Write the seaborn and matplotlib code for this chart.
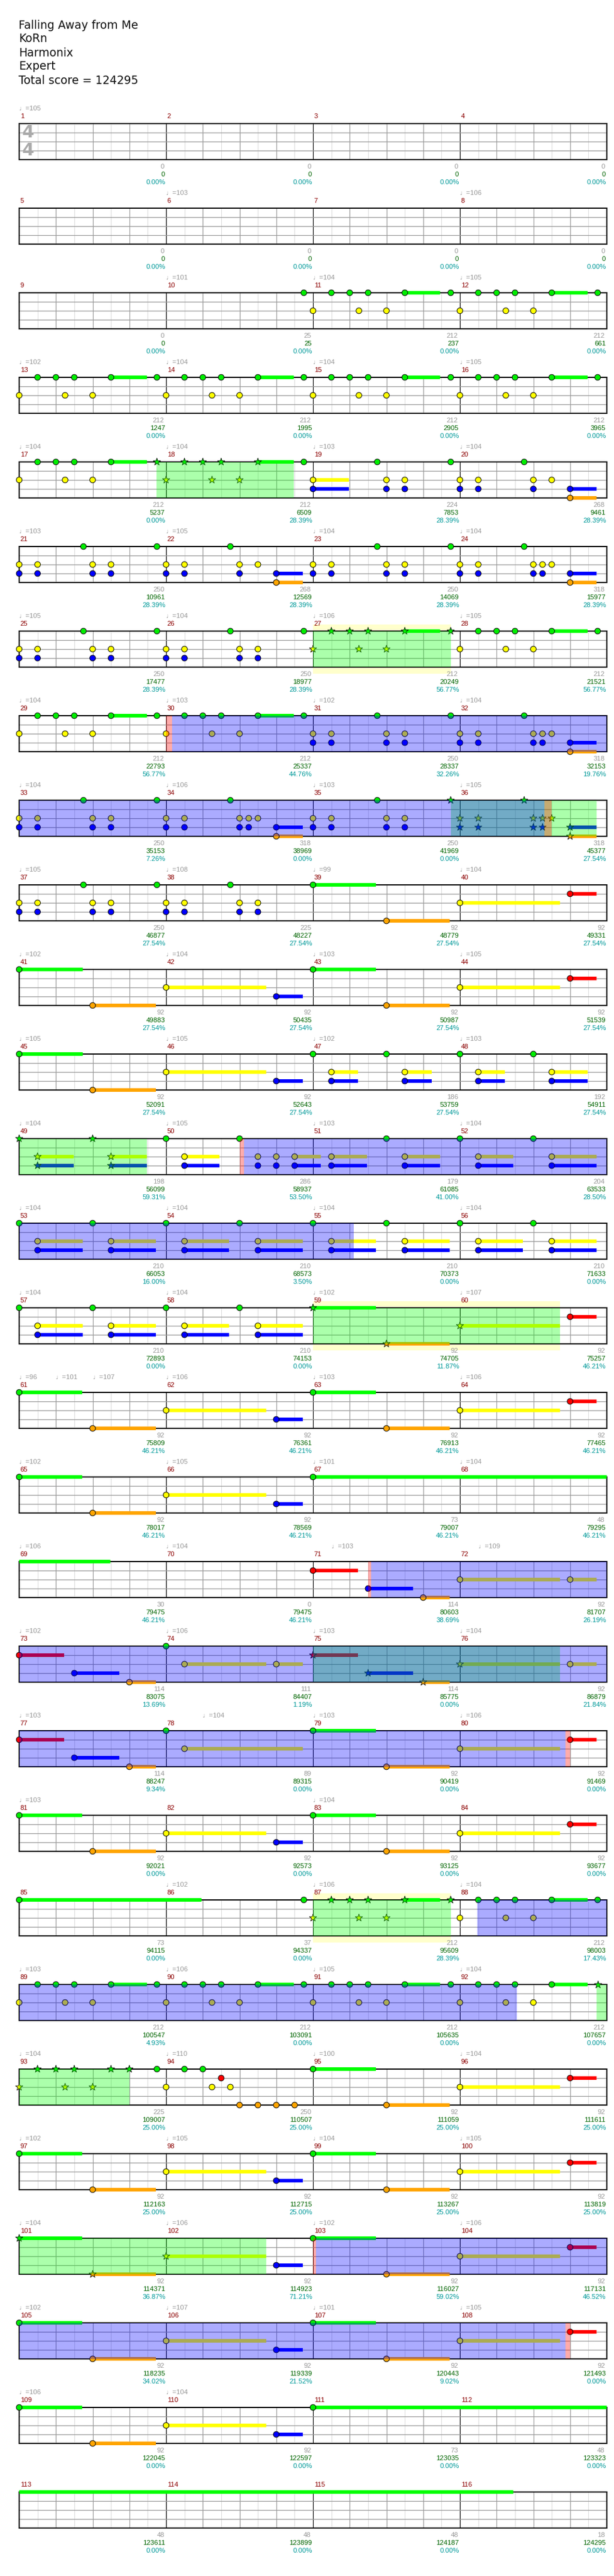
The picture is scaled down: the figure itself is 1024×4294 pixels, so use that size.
import matplotlib
matplotlib.use("Agg")
import matplotlib.pyplot as plt
from matplotlib.patches import Rectangle
import pandas as pd
import seaborn as sns

# ---- song header ----
title_lines = ["Falling Away from Me", "KoRn", "Harmonix", "Expert", "Total score = 124295"]

# ---- tempo markers: (measure, beat in measure, bpm) ----
tempos = [
    (1, 0, 105), (6, 0, 103), (8, 0, 106), (10, 0, 101), (11, 0, 104), (12, 0, 105),
    (13, 0, 102), (14, 0, 104), (15, 0, 104), (16, 0, 105), (17, 0, 104), (18, 0, 104),
    (19, 0, 103), (20, 0, 104), (21, 0, 103), (22, 0, 105), (23, 0, 104), (24, 0, 104),
    (25, 0, 105), (26, 0, 104), (27, 0, 106), (28, 0, 105), (29, 0, 104), (30, 0, 103),
    (31, 0, 102), (32, 0, 104), (33, 0, 104), (34, 0, 106), (35, 0, 103), (36, 0, 105),
    (37, 0, 105), (38, 0, 108), (39, 0, 99), (40, 0, 104), (41, 0, 102), (42, 0, 104),
    (43, 0, 103), (44, 0, 105), (45, 0, 105), (46, 0, 105), (47, 0, 102), (48, 0, 103),
    (49, 0, 104), (50, 0, 105), (51, 0, 103), (52, 0, 104), (53, 0, 104), (54, 0, 104),
    (55, 0, 104), (56, 0, 104), (57, 0, 104), (58, 0, 104), (59, 0, 102), (60, 0, 107),
    (61, 0, 96), (61, 1, 101), (61, 2, 107), (62, 0, 106), (63, 0, 103), (64, 0, 106),
    (65, 0, 102), (66, 0, 105), (67, 0, 101), (68, 0, 104), (69, 0, 106), (70, 0, 104),
    (71, 0.5, 103), (72, 0.5, 109), (73, 0, 102), (74, 0, 106), (75, 0, 103), (76, 0, 104),
    (77, 0, 103), (78, 1, 104), (79, 0, 103), (80, 0, 106), (81, 0, 103), (83, 0, 104),
    (86, 0, 102), (87, 0, 106), (88, 0, 104), (89, 0, 103), (90, 0, 106), (91, 0, 105),
    (92, 0, 104), (93, 0, 104), (94, 0, 110), (95, 0, 100), (96, 0, 104), (97, 0, 102),
    (98, 0, 105), (99, 0, 104), (100, 0, 105), (101, 0, 104), (102, 0, 106), (103, 0, 102),
    (104, 0, 106), (105, 0, 102), (106, 0, 107), (107, 0, 101), (108, 0, 105), (109, 0, 106),
    (110, 0, 104),
]

# ---- notes per measure: "*" = star note, letters = frets, number = beat, ":len" = sustain ----
chart = {
    10: "G3.75",
    11: "Y0 G.5 G1 Y1.25 G1.5 Y2 G2.5:.96 G3.75",
    12: "Y0 G.5 G1 Y1.25 G1.5 Y2 G2.5:.97 G3.75",
    13: "Y0 G.5 G1 Y1.25 G1.5 Y2 G2.5:.97 G3.75",
    14: "Y0 G.5 G1 Y1.25 G1.5 Y2 G2.5:.97 G3.75",
    15: "Y0 G.5 G1 Y1.25 G1.5 Y2 G2.5:.96 G3.75",
    16: "Y0 G.5 G1 Y1.25 G1.5 Y2 G2.5:.97 G3.75",
    17: "Y0 G.5 G1 Y1.25 G1.5 Y2 G2.5:.97 *G3.75",
    18: "*Y0 *G.5 *G1 *Y1.25 *G1.5 *Y2 *G2.5:.98 G3.75",
    19: "YB0:.98 G1.75 YB2 YB2.5 G3.75",
    20: "YB0 YB.5 G1.75 YB2 Y2.5 BO3:.73",
    21: "YB0 YB.5 G1.75 YB2 YB2.5 G3.75",
    22: "YB0 YB.5 G1.75 YB2 Y2.5 BO3:.72",
    23: "YB0 YB.5 G1.75 YB2 YB2.5 G3.75",
    24: "YB0 YB.5 G1.75 YB2 YB2.25 Y2.5 BO3:.73",
    25: "YB0 YB.5 G1.75 YB2 YB2.5 G3.75",
    26: "YB0 YB.5 G1.75 YB2 YB2.5 G3.75",
    27: "*Y0 *G.5 *G1 *Y1.25 *G1.5 *Y2 *G2.5:.96 *G3.75",
    28: "Y0 G.5 G1 Y1.25 G1.5 Y2 G2.5:.97 G3.75",
    29: "Y0 G.5 G1 Y1.25 G1.5 Y2 G2.5:.97 G3.75",
    30: "Y0 G.5 G1 Y1.25 G1.5 Y2 G2.5:.98 G3.75",
    31: "YB0 YB.5 G1.75 YB2 YB2.5 G3.75",
    32: "YB0 YB.5 G1.75 YB2 YB2.25 Y2.5 BO3:.73",
    33: "YB0 YB.5 G1.75 YB2 YB2.5 G3.75",
    34: "YB0 YB.5 G1.75 YB2 YB2.25 Y2.5 BO3:.72",
    35: "YB0 YB.5 G1.75 YB2 YB2.5 *G3.75",
    36: "*YB0 *YB.5 *G1.75 *YB2 *YB2.25 *Y2.5 *BO3:.73",
    37: "YB0 YB.5 G1.75 YB2 YB2.5 G3.75",
    38: "YB0 YB.5 G1.75 YB2 YB2.5",
    39: "G0:1.72 O2:1.72",
    40: "Y0:2.73 R3:.73",
    41: "G0:1.73 O2:1.72",
    42: "Y0:2.72 B3:.72",
    43: "G0:1.72 O2:1.72",
    44: "Y0:2.73 R3:.73",
    45: "G0:1.73 O2:1.72",
    46: "Y0:2.72 B3:.72",
    47: "G0 YB.5:.73 G2 YB2.5:.73",
    48: "G0 YB.5:.73 G2 YB2.5:.97",
    49: "*G0 *YB.5:.98 *G2 *YB2.5:.97",
    50: "G0 YB.5:.96 G2 YB2.5 YB3 YB3.5:.72",
    51: "YB.5:.97 G2 YB2.5:.96",
    52: "G0 YB.5:.96 G2 YB2.5:1.23",
    53: "G0 YB.5:1.23 G2 YB2.5:1.22",
    54: "G0 YB.5:1.22 G2 YB2.5:1.22",
    55: "G0 YB.5:1.22 G2 YB2.5:1.22",
    56: "G0 YB.5:1.22 G2 YB2.5:1.23",
    57: "G0 YB.5:1.23 G2 YB2.5:1.22",
    58: "G0 YB.5:1.22 G2 YB2.5:1.22",
    59: "*G0:1.72 *O2:1.72",
    60: "*Y0:2.73 R3:.73",
    61: "G0:1.72 O2:1.72",
    62: "Y0:2.72 B3:.72",
    63: "G0:1.72 O2:1.72",
    64: "Y0:2.73 R3:.73",
    65: "G0:1.72 O2:1.72",
    66: "Y0:2.72 B3:.72",
    67: "G0:10.48",
    71: "R0:1.22 B1.5:1.22 O3:.72",
    72: "Y0:2.73 Y3:.72",
    73: "R0:1.23 B1.5:1.22 O3:.72",
    74: "G0 Y.5:2.22 Y3:.72",
    75: "*R0:1.23 *B1.5:1.22 *O3:.72",
    76: "*Y0:2.73 Y3:.72",
    77: "R0:1.23 B1.5:1.22 O3:.72",
    78: "G0 Y.5:3.22",
    79: "G0:1.72 O2:1.72",
    80: "Y0:2.73 R3:.73",
    81: "G0:1.72 O2:1.72",
    82: "Y0:2.72 B3:.72",
    83: "G0:1.72 O2:1.72",
    84: "Y0:2.73 R3:.73",
    85: "G0:4.97",
    86: "G3.75",
    87: "*Y0 *G.5 *G1 *Y1.25 *G1.5 *Y2 *G2.5:.96 *G3.75",
    88: "Y0 G.5 G1 Y1.25 G1.5 Y2 G2.5:.97 G3.75",
    89: "Y0 G.5 G1 Y1.25 G1.5 Y2 G2.5:.97 G3.75",
    90: "Y0 G.5 G1 Y1.25 G1.5 Y2 G2.5:.98 G3.75",
    91: "Y0 G.5 G1 Y1.25 G1.5 Y2 G2.5:.96 G3.75",
    92: "Y0 G.5 G1 Y1.25 G1.5 Y2 G2.5:.97 *G3.75",
    93: "*Y0 *G.5 *G1 *Y1.25 *G1.5 *Y2 *G2.5 *G3 G3.75",
    94: "Y0 G.5 G1 Y1.25 R1.5 Y1.75 O2 O2.5 O3 O3.5",
    95: "G0:1.72 O2:1.72",
    96: "Y0:2.73 R3:.73",
    97: "G0:1.72 O2:1.72",
    98: "Y0:2.72 B3:.72",
    99: "G0:1.72 O2:1.72",
    100: "Y0:2.73 R3:.73",
    101: "*G0:1.72 *O2:1.72",
    102: "*Y0:2.72 B3:.72",
    103: "G0:1.72 O2:1.72",
    104: "Y0:2.73 R3:.73",
    105: "G0:1.72 O2:1.72",
    106: "Y0:2.72 B3:.72",
    107: "G0:1.72 O2:1.72",
    108: "Y0:2.73 R3:.73",
    109: "G0:1.72 O2:1.72",
    110: "Y0:2.72 B3:.72",
    111: "G0:21.46",
}

# ---- star power phrases, whammy zones, activations (absolute beats) ----
sp_phrases = [(67.74, 71.48), (104.0, 107.75), (139.75, 143.73), (192.0, 195.47), (232.0, 238.72),
              (296.0, 302.72), (344.0, 347.75), (367.73, 371.0), (400.0, 406.72)]
whammy_zones = [(104.0, 107.75), (232.0, 238.72), (344.0, 347.75)]
activations = [(116.16, 142.31), (198.13, 217.11), (281.58, 318.88), (348.47, 365.55), (408.08, 430.88)]
act_marks = [(116.0, 116.16), (142.31, 142.5), (198.0, 198.13), (281.5, 281.58), (318.88, 319.0),
             (408.0, 408.08), (430.88, 431.0)]

# ---- per-measure labels ----
counts = [0, 0, 0, 0, 0, 0, 0, 0,
          0, 25, 212, 212, 212, 212, 212, 212,
          212, 212, 224, 268, 250, 268, 250, 318,
          250, 250, 212, 212, 212, 212, 250, 318,
          250, 318, 250, 318, 250, 225, 92, 92,
          92, 92, 92, 92, 92, 92, 186, 192,
          198, 286, 179, 204, 210, 210, 210, 210,
          210, 210, 92, 92, 92, 92, 92, 92,
          92, 92, 73, 48, 30, 0, 114, 92,
          114, 111, 114, 92, 114, 89, 92, 92,
          92, 92, 92, 92, 73, 37, 212, 212,
          212, 212, 212, 212, 225, 250, 92, 92,
          92, 92, 92, 92, 92, 92, 92, 92,
          92, 92, 92, 92, 92, 92, 73, 48,
          48, 48, 48, 18]
scores = [0, 0, 0, 0, 0, 0, 0, 0,
          0, 25, 237, 661, 1247, 1995, 2905, 3965,
          5237, 6509, 7853, 9461, 10961, 12569, 14069, 15977,
          17477, 18977, 20249, 21521, 22793, 25337, 28337, 32153,
          35153, 38969, 41969, 45377, 46877, 48227, 48779, 49331,
          49883, 50435, 50987, 51539, 52091, 52643, 53759, 54911,
          56099, 58937, 61085, 63533, 66053, 68573, 70373, 71633,
          72893, 74153, 74705, 75257, 75809, 76361, 76913, 77465,
          78017, 78569, 79007, 79295, 79475, 79475, 80603, 81707,
          83075, 84407, 85775, 86879, 88247, 89315, 90419, 91469,
          92021, 92573, 93125, 93677, 94115, 94337, 95609, 98003,
          100547, 103091, 105635, 107657, 109007, 110507, 111059, 111611,
          112163, 112715, 113267, 113819, 114371, 114923, 116027, 117131,
          118235, 119339, 120443, 121493, 122045, 122597, 123035, 123323,
          123611, 123899, 124187, 124295]
percents = [0.00, 0.00, 0.00, 0.00, 0.00, 0.00, 0.00, 0.00,
            0.00, 0.00, 0.00, 0.00, 0.00, 0.00, 0.00, 0.00,
            0.00, 28.39, 28.39, 28.39, 28.39, 28.39, 28.39, 28.39,
            28.39, 28.39, 56.77, 56.77, 56.77, 44.76, 32.26, 19.76,
            7.26, 0.00, 0.00, 27.54, 27.54, 27.54, 27.54, 27.54,
            27.54, 27.54, 27.54, 27.54, 27.54, 27.54, 27.54, 27.54,
            59.31, 53.50, 41.00, 28.50, 16.00, 3.50, 0.00, 0.00,
            0.00, 0.00, 11.87, 46.21, 46.21, 46.21, 46.21, 46.21,
            46.21, 46.21, 46.21, 46.21, 46.21, 46.21, 38.69, 26.19,
            13.69, 1.19, 0.00, 21.84, 9.34, 0.00, 0.00, 0.00,
            0.00, 0.00, 0.00, 0.00, 0.00, 0.00, 28.39, 17.43,
            4.93, 0.00, 0.00, 0.00, 25.00, 25.00, 25.00, 25.00,
            25.00, 25.00, 25.00, 25.00, 36.87, 71.21, 59.02, 46.52,
            34.02, 21.52, 9.02, 0.00, 0.00, 0.00, 0.00, 0.00,
            0.00, 0.00, 0.00, 0.00]

FRETS = "GRYBO"
note_colors = {"G": "#00ee00", "R": "#ff0000", "Y": "#ffff00", "B": "#0000ff", "O": "#ffa500"}
sustain_colors = {"G": "#00ff00", "R": "#ff0000", "Y": "#ffff00", "B": "#0000ff", "O": "#ffa500"}

# ---- build note table ----
recs = []
for m, text in chart.items():
    for tok in text.split():
        star = tok.startswith("*")
        tok = tok.lstrip("*")
        length = 0.0
        if ":" in tok:
            tok, ln = tok.split(":")
            length = float(ln)
        frets = "".join(c for c in tok if c.isalpha())
        beat = 4 * (m - 1) + float(tok[len(frets):])
        for f in frets:
            recs.append(dict(beat=beat, fret=f, lane=FRETS.index(f), length=length, star=star))
notes = pd.DataFrame(recs)
notes["row"] = (notes["beat"] // 16).astype(int)
notes["x"] = notes["beat"] - 16 * notes["row"]

sns.set_theme(style="white")
plt.rcParams["font.family"] = ["DejaVu Sans"]
NUM_FONT = ["Liberation Sans", "DejaVu Sans"]

W, H = 1024, 4294
N_ROWS = 29
fig = plt.figure(figsize=(W / 100, H / 100), dpi=100)
fig.patch.set_facecolor("white")

for i, line in enumerate(title_lines):
    fig.text(31 / W, 1 - (42 + 23 * i) / H, line, fontsize=13.5, va="center", ha="left", color="#111111")


def segments(a, b):
    # split an absolute beat span into (row, local start, local end)
    out = []
    r = int(a // 16)
    while r * 16 < b:
        s, e = max(a, 16 * r), min(b, 16 * r + 16)
        if e > s:
            out.append((r, s - 16 * r, e - 16 * r))
        r += 1
    return out


axes = []
for r in range(N_ROWS):
    top = 206 + 141 * r
    ax = fig.add_axes([32 / W, 1 - (top + 60) / H, 980 / W, 60 / H])
    ax.set_facecolor("white")
    for i in range(1, 32):
        if i % 8 == 0:
            c = "black"
        elif i % 2 == 0:
            c = "#999999"
        else:
            c = "#dddddd"
        ax.axvline(i / 2, color=c, lw=0.8, zorder=1)
    for y in (1, 2, 3):
        ax.axhline(y, color="#999999", lw=0.9, zorder=1.5)
    for sp in ax.spines.values():
        sp.set_color("black")
        sp.set_linewidth(1.4)

    sub = notes[notes["row"] == r]
    plain = sub[~sub["star"]]
    stars = sub[sub["star"]]
    if len(plain):
        sns.scatterplot(data=plain, x="x", y="lane", hue="fret", palette=note_colors, s=48,
                        edgecolor="black", linewidth=0.7, legend=False, zorder=5, clip_on=False, ax=ax)
    if len(stars):
        sns.scatterplot(data=stars, x="x", y="lane", hue="fret", palette=note_colors, marker="*", s=85,
                        edgecolor="black", linewidth=0.6, legend=False, zorder=5, clip_on=False, ax=ax)
    ax.set_xlim(0, 16)
    ax.set_ylim(4, 0)
    ax.set_xticks([])
    ax.set_yticks([])
    ax.set_xlabel("")
    ax.set_ylabel("")

    # measure labels
    for k in range(4):
        m = 4 * r + k + 1
        ax.text(4 * k + 0.03, -0.8, str(m), color="#8b0000", fontsize=8.2, family=NUM_FONT,
                ha="left", va="center")
        ax.text(4 * k + 3.95, 4.8, str(counts[m - 1]), color="#999999", fontsize=8.2, family=NUM_FONT,
                ha="right", va="center")
        ax.text(4 * k + 3.97, 5.67, str(scores[m - 1]), color="#006400", fontsize=8.2, family=NUM_FONT,
                ha="right", va="center")
        ax.text(4 * k + 3.98, 6.53, f"{percents[m - 1]:.2f}%", color="#009999", fontsize=8.2,
                family=NUM_FONT, ha="right", va="center")
    axes.append(ax)

# time signature
for yy in (1, 3):
    axes[0].text(0.07, yy, "4", fontsize=21, fontweight="bold", color="#aaaaaa", ha="left", va="center", zorder=2)

# tempos
for m, b, bpm in tempos:
    r = (m - 1) // 4
    axes[r].text(4 * ((m - 1) % 4) + b, -1.67, f"\u2669={bpm}", color="#999999", fontsize=8.2,
                 family=NUM_FONT, ha="left", va="center")

# sustains
for _, n in notes[notes["length"] > 0].iterrows():
    for r, a, b in segments(n["beat"], n["beat"] + n["length"]):
        axes[r].add_patch(Rectangle((a, n["lane"] - 0.225), b - a, 0.45, color=sustain_colors[n["fret"]],
                                    lw=0, zorder=4, clip_on=False))

# whammy (pale yellow) zones
for a0, b0 in whammy_zones:
    for r, a, b in segments(a0, b0):
        axes[r].add_patch(Rectangle((a, -0.73), b - a, 0.73, color="#ffffcc", lw=0, zorder=0.2, clip_on=False))
        axes[r].add_patch(Rectangle((a, 4.0), b - a, 0.73, color="#ffffcc", lw=0, zorder=0.2, clip_on=False))

# overlays
for spans, col in ((sp_phrases, (0, 1, 0)), (activations, (0, 0, 1)), (act_marks, (1, 0, 0))):
    for a0, b0 in spans:
        for r, a, b in segments(a0, b0):
            axes[r].axvspan(a, b, color=col, alpha=0.33, lw=0, zorder=10)

fig.savefig("out.png", dpi=100, facecolor="white")
